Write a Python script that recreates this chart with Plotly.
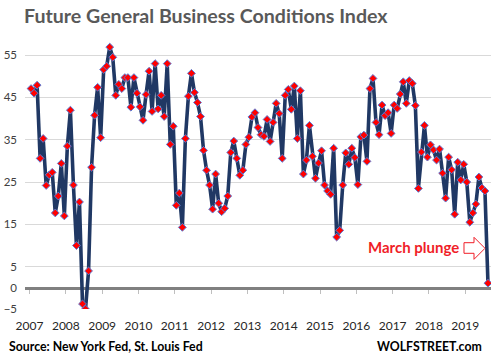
import plotly.graph_objects as go

# ---------------- data ----------------
year_labels = ["2007", "2008", "2009", "2010", "2011", "2012", "2013",
               "2014", "2015", "2016", "2017", "2018", "2019"]

index_values = [
    47.1, 46.0, 47.9, 30.6, 35.3, 24.2, 26.7, 27.3, 17.7, 21.7, 29.4, 17.0,
    33.5, 42.0, 24.3, 10.0, 20.3, -3.8, -5.0, 4.0, 28.5, 40.8, 47.4, 35.5,
    51.6, 52.4, 56.9, 54.5, 45.5, 48.1, 47.1, 49.7, 49.7, 42.7, 49.7, 46.0,
    42.8, 39.6, 45.7, 51.2, 41.7, 53.0, 42.3, 45.5, 40.5, 53.0, 33.9, 38.2,
    19.5, 22.4, 14.3, 35.3, 45.3, 50.7, 46.2, 43.8, 40.5, 32.5, 27.8, 24.3,
    18.6, 26.9, 20.0, 18.0, 18.8, 21.7, 32.0, 34.7, 30.6, 26.6, 27.8, 33.9,
    35.6, 40.4, 41.4, 37.9, 36.2, 35.8, 39.8, 34.6, 39.1, 43.6, 41.2, 30.6,
    45.5, 46.9, 42.2, 47.7, 35.3, 46.6, 26.9, 30.2, 38.4, 31.1, 25.9, 29.5,
    32.4, 24.3, 22.9, 22.1, 33.0, 12.0, 13.6, 24.3, 31.9, 29.2, 33.0, 30.8,
    24.4, 35.7, 36.1, 29.9, 47.1, 49.5, 39.1, 36.2, 43.2, 40.7, 41.4, 36.5,
    43.2, 42.4, 45.8, 48.7, 43.6, 49.0, 48.3, 43.1, 23.5, 32.1, 38.4, 30.9,
    33.8, 32.6, 30.2, 32.8, 27.1, 21.2, 30.9, 27.9, 17.4, 29.7, 25.5, 29.2,
    25.0, 15.5, 17.7, 19.8, 26.2, 23.6, 22.9, 1.1,
]
months = list(range(len(index_values)))
year_ticks = [-0.5 + 12 * k for k in range(len(year_labels))]
y_ticks = [-5, 0, 5, 15, 25, 35, 45, 55]

# ---------------- geometry ----------------
W, H = 492, 362
L, R, T, B = 25, 1, 34, 53
PW, PH = W - L - R, H - T - B
X_RANGE = [-2, 152]
Y_RANGE = [-5, 60]


def px(xp):
    return (xp - L) / PW


def py(yp):
    return (H - B - yp) / PH


fig = go.Figure()
fig.add_trace(go.Scatter(
    x=months, y=index_values, mode="lines+markers",
    line=dict(color="#203864", width=3.6),
    marker=dict(symbol="diamond", size=6, color="#ff0000",
                line=dict(color="#5b7bd5", width=1)),
    showlegend=False, hoverinfo="skip",
))
# empty trace to register the zero-crossing axis
fig.add_trace(go.Scatter(x=[], y=[], xaxis="x2", showlegend=False,
                         hoverinfo="skip"))

zero_pos = (0 - Y_RANGE[0]) / (Y_RANGE[1] - Y_RANGE[0])

fig.update_layout(
    width=W, height=H,
    margin=dict(l=L, r=R, t=T, b=B, pad=0),
    paper_bgcolor="white", plot_bgcolor="white",
    font=dict(family="Lato", color="#404040"),
    xaxis=dict(range=X_RANGE, tickmode="array", tickvals=year_ticks,
               ticktext=year_labels, showgrid=False, zeroline=False,
               showline=False, ticks="", ticklabelstandoff=8,
               automargin=False,
               tickfont=dict(family="Lato", size=12, color="#262626")),
    xaxis2=dict(range=X_RANGE, overlaying="x", anchor="free",
                position=zero_pos, tickmode="array", tickvals=year_ticks,
                showticklabels=False, ticks="outside", ticklen=4,
                tickwidth=1, tickcolor="#bfbfbf", showgrid=False,
                zeroline=False, showline=True, linecolor="#808080",
                linewidth=3, layer="below traces", automargin=False),
    yaxis=dict(range=Y_RANGE, tickmode="array", tickvals=y_ticks,
               showgrid=True, gridcolor="#d9d9d9", gridwidth=1,
               zeroline=False, showline=False, ticks="",
               ticklabelstandoff=7, automargin=False,
               tickfont=dict(family="Lato", size=11.5, color="#404040")),
    annotations=[
        dict(text="<b>Future General Business Conditions Index</b>",
             xref="paper", yref="paper", x=px(22), y=py(15),
             xanchor="left", yanchor="middle", showarrow=False,
             font=dict(family="Lato", size=19.6, color="#595959")),
        dict(text="<b>Source: New York Fed, St. Louis Fed</b>",
             xref="paper", yref="paper", x=px(7), y=py(346),
             xanchor="left", yanchor="middle", showarrow=False,
             font=dict(family="Lato", size=12.3, color="#000000")),
        dict(text="<b>WOLFSTREET.com</b>",
             xref="paper", yref="paper", x=px(484), y=py(346),
             xanchor="right", yanchor="middle", showarrow=False,
             font=dict(family="Lato", size=12.3, color="#000000")),
        dict(text="<b>March plunge</b>",
             xref="paper", yref="paper", x=px(461), y=py(247),
             xanchor="right", yanchor="middle", showarrow=False,
             font=dict(family="Lato", size=15, color="#f01e28")),
    ],
)

arrow = [(464, 242.7), (474, 242.7), (474, 237.3), (485, 248.3),
         (474, 259.3), (474, 253.3), (464, 253.3)]
path = "M " + " L ".join(f"{px(a):.5f},{py(b):.5f}" for a, b in arrow) + " Z"
fig.add_shape(type="path", path=path, xref="paper", yref="paper",
              line=dict(color="#f01e28", width=1), fillcolor="white")

fig.write_html("out.html",
               config={"displayModeBar": False},
               post_script="document.body.style.margin='0';"
                           "document.body.style.overflow='hidden';")
